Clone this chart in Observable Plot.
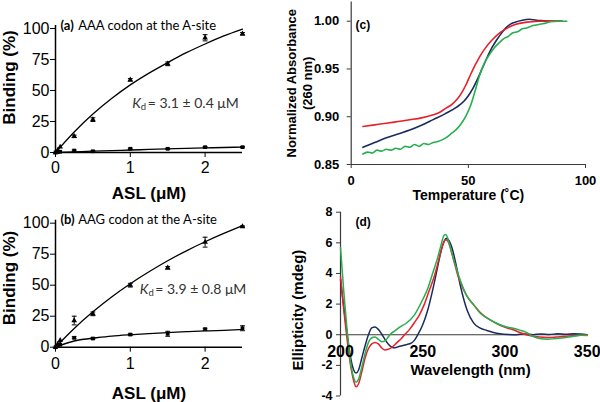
<!DOCTYPE html>
<html><head><meta charset="utf-8">
<script src="https://cdn.jsdelivr.net/npm/d3@7"></script>
<script src="https://cdn.jsdelivr.net/npm/@observablehq/plot@0.6"></script>
<style>
body{margin:0;background:#fff;}
#fig{position:relative;width:600px;height:402px;overflow:hidden;background:#fff;}
.panel{position:absolute;}
</style></head><body><div id="fig"></div>
<script>
// ---------- data: panels (a) and (b) ----------
const aslX   = [0, 0.03, 0.0625, 0.25, 0.5, 1, 1.5, 2, 2.5];
const aTri    = [0, 2, 4.5, 13, 26.5, 58.6, 71.5, 92.5, 95.7];
const aTriErr = [0, 0, 0, 1, 1.5, 1, 1.5, 2.5, 1];
const aSq     = [0, 0.3, 0.6, 1.6, 1, 3, 3, 4.3, 4.3];
const aSqErr  = [0, 0, 0, 0.5, 0.5, 0.5, 0.5, 0.5, 0.5];
const bTri    = [0, 2.5, 5.5, 21.5, 26.9, 50, 64, 84.7, 97.3];
const bTriErr = [0, 0, 0, 3.5, 1.5, 1.5, 1, 4, 0.5];
const bSq     = [0, 1, 2, 7.6, 7, 10.2, 10.8, 14.5, 15.3];
const bSqErr  = [0, 0, 0, 0.8, 0.5, 0.6, 2, 0.8, 2];
const fitX    = [0, 0.25, 0.5, 0.75, 1, 1.25, 1.5, 1.75, 2, 2.25, 2.5];
const aFitTri = [0, 16.5, 31, 43.5, 54.5, 64, 72.5, 80.5, 87.5, 94, 99.5];
const aFitSq  = [0, 0.55, 1.1, 1.55, 2.0, 2.45, 2.9, 3.3, 3.7, 4.05, 4.4];
const bFitTri = [0, 15.1, 28.5, 40.5, 51.2, 60.8, 69.7, 77.7, 85, 91.7, 98];
const bFitSq  = [0, 5, 7.3, 8.9, 10, 11, 11.8, 12.5, 13.1, 13.6, 14.3];
const bindYTicks = [0, 25, 50, 75, 100];
const bindXTicks = [0, 1, 2];
const panelLetters = ["(a)", "(b)"];
const codonTitles = ["AAA codon at the A-site", "AAG codon at the A-site"];
const kdValues = ["= 3.1 ± 0.4 μM", "= 3.9 ± 0.8 μM"];

// ---------- data: panel (c) UV melting ----------
const tRed  = [5,10,15,20,25,30,35,38,40,43,45,47,49,51,53,55,57,60,63,66,70,75,80,85,90];
const aRed  = [0.8898,0.8915,0.8932,0.8950,0.8968,0.8988,0.9020,0.9050,0.9083,0.9130,0.9177,0.9245,0.9335,0.9445,0.9545,0.9635,0.9710,0.9800,0.9870,0.9920,0.9966,0.9990,1.0000,1.0003,1.0000];
const tBlue = [5,8,10,15,20,25,30,35,40,45,48,50,52,54,56,58,60,62,64,66,68,70,73,76,79,82,86,90];
const aBlue = [0.868,0.871,0.873,0.878,0.882,0.886,0.891,0.897,0.903,0.910,0.916,0.922,0.930,0.940,0.951,0.962,0.972,0.980,0.987,0.993,0.997,0.999,1.001,1.002,1.001,1.0005,1.0,1.0];
const tGreen = [5,7,9,11,13,15,17,19,21,23,25,27,29,31,33,35,37,39,41,43,45,47,49,51,53,55,57,59,61,63,65,67,69,71,73,75,77,79,81,83,85,88,92];
const aGreen = [0.861,0.863,0.862,0.865,0.864,0.866,0.865,0.867,0.866,0.869,0.868,0.871,0.869,0.872,0.871,0.873,0.874,0.876,0.879,0.883,0.887,0.893,0.901,0.912,0.928,0.945,0.957,0.965,0.972,0.977,0.9815,0.984,0.988,0.989,0.992,0.993,0.995,0.996,0.997,0.998,0.9995,1.0,1.0];
const cYTicks = [0.85, 0.90, 0.95, 1.00];
const cXTicks = [0, 50, 100];

// ---------- data: panel (d) CD spectra ----------
const wlBlue = [200,202,204,206,208,209.5,211,213,215,217,219,221,223,225,227,229,231,233,236,240,243,245,247,250,253,256,259,261,263,264.5,266,268,270,273,277,281,285,289,293,297,302,307,312,317,322,327,332,337,342,346,350];
const ellBlue = [3.6,1.8,0.1,-1.4,-2.3,-2.5,-2.3,-1.5,-0.7,0,0.45,0.5,0.35,0.05,-0.3,-0.6,-0.8,-0.85,-0.75,-0.65,-0.55,-0.35,0,0.65,1.6,2.9,4.4,5.4,6.1,6.3,6.15,5.6,4.7,3.15,1.6,0.76,0.43,0.28,0.15,0.07,0.02,0.0,0.05,0.0,0.05,0.02,0.06,0.03,0.07,0.04,0.0];
const wlRed = [200,202,204,206,208,209.5,211,213,215,217,219,221,223,225,227,229,231,233,235,237,239,242,245,248,251,254,257,260,262,264,265,267,269,271,273,277,281,285,289,293,297,301,305,309,313,317,321,326,331,336,341,346,350];
const ellRed = [3.8,1.6,-0.3,-1.9,-3.0,-3.4,-3.2,-2.4,-1.5,-0.9,-0.6,-0.5,-0.6,-0.85,-1.0,-0.95,-0.85,-0.65,-0.45,-0.25,0,0.35,0.8,1.3,2.0,2.9,3.8,5.0,5.8,6.2,6.15,5.6,4.8,4.0,3.4,2.5,1.95,1.45,1.1,0.85,0.62,0.45,0.33,0.15,0.0,-0.1,-0.15,-0.18,-0.15,-0.1,-0.07,-0.03,0];
const wlGreen = [200,202,204,206,208,209.5,211,213,215,217,219,221,223,225,227,229,230,233,236,240,245,250,253,256,259,261,263,264,266,268,270,273,277,281,285,289,293,297,301,305,309,313,317,321,326,331,336,341,346,350];
const ellGreen = [5.7,2.8,0.3,-1.7,-2.8,-3.1,-2.9,-2.1,-1.2,-0.5,-0.2,-0.15,-0.3,-0.45,-0.4,-0.15,0,0.25,0.5,0.75,1.3,2.3,3.0,4.0,5.0,5.8,6.5,6.55,6.0,5.2,4.5,3.5,2.5,1.95,1.4,1.1,0.85,0.65,0.5,0.42,0.3,0.15,-0.1,-0.25,-0.3,-0.25,-0.2,-0.12,-0.03,-0.05];
const dYTicks = [-4, -2, 0, 2, 4, 6, 8];
const dXTicks = [200, 250, 300, 350];
const seriesNames = ["s1", "s2", "s3"];

// ---------- styling ----------
const SANS = "'Liberation Sans', Arial, Helvetica, sans-serif";
const CAL = "Lato, 'Liberation Sans', sans-serif";
const NAVY = "#1c2b5e", RED = "#e8202a", GREEN = "#27ae4e", AXIS = "#3a3a3a";
const capSymbol = {draw(ctx, size) { const r = Math.sqrt(size / Math.PI); ctx.moveTo(-r, 0); ctx.lineTo(r, 0); }};

const fig = document.getElementById("fig");
function place(el, left, top) {
  const d = document.createElement("div");
  d.className = "panel"; d.style.left = left + "px"; d.style.top = top + "px";
  d.appendChild(el); fig.appendChild(d);
}

function bindingPanel(k, tri, triErr, sq, sqErr, fitTri, fitSq, o) {
  const pts = aslX.map((x, i) => ({x, tri: tri[i], te: triErr[i], sq: sq[i], se: sqErr[i]}));
  const errs = [
    ...pts.filter(p => p.te > 0).map(p => ({x: p.x, y: p.tri, e: p.te})),
    ...pts.filter(p => p.se > 0).map(p => ({x: p.x, y: p.sq, e: p.se}))
  ];
  const fit = fitX.map((x, i) => ({x, t: fitTri[i], s: fitSq[i]}));
  const txt = (s, opts) => Plot.text([s], {text: d => d, textAnchor: "start", lineAnchor: "middle", fill: "black", ...opts});
  return Plot.plot({
    width: 280, height: o.height,
    marginLeft: 55, marginRight: 38, marginTop: o.marginTop, marginBottom: o.marginBottom,
    style: {background: "transparent", fontFamily: SANS, color: "black"},
    x: {domain: [0, 2.5]}, y: {domain: [0, 102.4]},
    marks: [
      Plot.axisY({ticks: bindYTicks, tickSize: 5, tickPadding: 1, fontSize: 16, label: null}),
      Plot.axisX({ticks: bindXTicks, tickFormat: d => String(d), tickSize: 5, tickPadding: o.xPad, fontSize: 16, label: null}),
      Plot.ruleX([0], {strokeWidth: 1.5}),
      Plot.ruleY([0], {strokeWidth: 1.5}),
      Plot.line(fit, {x: "x", y: "t", curve: "natural", strokeWidth: 1.3}),
      Plot.line(fit, {x: "x", y: "s", curve: "natural", strokeWidth: 1.3}),
      Plot.ruleX(errs, {x: "x", y1: d => d.y - d.e, y2: d => d.y + d.e, strokeWidth: 1}),
      Plot.dot(errs, {x: "x", y: d => d.y + d.e, symbol: capSymbol, r: 2.4, stroke: "black", fill: "none", strokeWidth: 1}),
      Plot.dot(errs, {x: "x", y: d => d.y - d.e, symbol: capSymbol, r: 2.4, stroke: "black", fill: "none", strokeWidth: 1}),
      Plot.dot(pts, {x: "x", y: "tri", symbol: "triangle", r: 2.1, fill: "black", stroke: null}),
      Plot.dot(pts, {x: "x", y: "sq", symbol: "square", r: 2.1, fill: "black", stroke: null}),
      txt(panelLetters[k], {frameAnchor: "top-left", dx: 5, dy: o.titleDy, fontFamily: CAL, fontWeight: "bold", fontSize: 13}),
      txt(codonTitles[k], {frameAnchor: "top-left", dx: 22.7, dy: o.titleDy, fontFamily: CAL, fontSize: 13}),
      txt("K", {frameAnchor: "top-left", dx: o.kdDx, dy: o.kdDy, fontFamily: CAL, fontStyle: "italic", fontSize: 14, fill: "#333"}),
      txt("d", {frameAnchor: "top-left", dx: o.kdDx + 8.6, dy: o.kdDy + 3.5, fontFamily: CAL, fontSize: 9.5, fill: "#333"}),
      txt(kdValues[k], {frameAnchor: "top-left", dx: o.kdDx + 15.5, dy: o.kdDy, fontFamily: CAL, fontSize: 14, fill: "#333"}),
      Plot.text(["Binding (%)"], {text: d => d, frameAnchor: "left", dx: -46, dy: o.bindDy, rotate: -90, textAnchor: "middle", lineAnchor: "middle", fontWeight: "bold", fontSize: 17}),
      Plot.text(["ASL (μM)"], {text: d => d, frameAnchor: "bottom", dy: o.aslDy, textAnchor: "middle", lineAnchor: "middle", fontWeight: "bold", fontSize: 17})
    ]
  });
}

place(bindingPanel(0, aTri, aTriErr, aSq, aSqErr, aFitTri, aFitSq,
  {height: 212, marginTop: 25, marginBottom: 60, xPad: 4, titleDy: 0, kdDx: 76.7, kdDy: 78, bindDy: -11.5, aslDy: 41}), 0, 0);
place(bindingPanel(1, bTri, bTriErr, bSq, bSqErr, bFitTri, bFitSq,
  {height: 202, marginTop: 19.7, marginBottom: 55.3, xPad: 5, titleDy: -0.7, kdDx: 84.3, kdDy: 69.3, bindDy: -5.7, aslDy: 46.3}), 0, 200);

// ---------- panel (c) ----------
const cRows = [
  ...tBlue.map((t, i) => ({t, a: aBlue[i], s: seriesNames[0]})),
  ...tRed.map((t, i) => ({t, a: aRed[i], s: seriesNames[1]})),
  ...tGreen.map((t, i) => ({t, a: aGreen[i], s: seriesNames[2]}))
];
const colorScale = {domain: seriesNames, range: [NAVY, RED, GREEN]};
place(Plot.plot({
  width: 320, height: 212, marginLeft: 70.7, marginRight: 15, marginTop: 1.6, marginBottom: 48,
  style: {background: "transparent", fontFamily: SANS, fontWeight: "bold", color: "black"},
  x: {domain: [0, 100]}, y: {domain: [0.85, 1.02]}, color: colorScale,
  marks: [
    Plot.axisY({ticks: cYTicks, tickFormat: d3.format(".2f"), tickSize: 4, tickPadding: 8, fontSize: 13, label: null, stroke: AXIS}),
    Plot.axisX({ticks: cXTicks, tickFormat: d => String(d), tickSize: 4, tickPadding: 7, fontSize: 13, label: null, stroke: AXIS}),
    Plot.ruleX([0], {stroke: AXIS, strokeWidth: 1.2}),
    Plot.ruleY([0.85], {stroke: AXIS, strokeWidth: 1.2}),
    Plot.line(cRows, {x: "t", y: "a", z: "s", stroke: "s", curve: "monotone-x", strokeWidth: 1.6}),
    Plot.text(["(c)"], {text: d => d, frameAnchor: "top-left", dx: 4.3, dy: 23.4, textAnchor: "start", lineAnchor: "middle", fontSize: 12}),
    Plot.text(["Normalized Absorbance"], {text: d => d, frameAnchor: "left", dx: -59.7, dy: 0, rotate: -90, textAnchor: "middle", lineAnchor: "middle", fontSize: 13}),
    Plot.text(["(260 nm)"], {text: d => d, frameAnchor: "left", dx: -43.7, dy: 0, rotate: -90, textAnchor: "middle", lineAnchor: "middle", fontSize: 13}),
    Plot.text(["Temperature (˚C)"], {text: d => d, frameAnchor: "bottom", dy: 31, textAnchor: "middle", lineAnchor: "middle", fontSize: 14})
  ]
}), 280, 0);

// ---------- panel (d) ----------
const dRows = [
  ...wlBlue.map((w, i) => ({w, e: ellBlue[i], s: seriesNames[0]})),
  ...wlRed.map((w, i) => ({w, e: ellRed[i], s: seriesNames[1]})),
  ...wlGreen.map((w, i) => ({w, e: ellGreen[i], s: seriesNames[2]}))
];
place(Plot.plot({
  width: 320, height: 202, marginLeft: 60, marginRight: 13.3, marginTop: 11.7, marginBottom: 6.5,
  style: {background: "transparent", fontFamily: SANS, fontWeight: "bold", color: "black"},
  x: {domain: [200, 350], axis: null}, y: {domain: [-4, 8]}, color: colorScale,
  marks: [
    Plot.axisY({ticks: dYTicks, tickFormat: d => String(d), tickSize: 4, tickPadding: 4, fontSize: 12.5, label: null, stroke: AXIS}),
    Plot.ruleX([200], {stroke: AXIS, strokeWidth: 1.2}),
    Plot.ruleY([0], {stroke: AXIS, strokeWidth: 1.2}),
    Plot.line(dRows, {x: "w", y: "e", z: "s", stroke: "s", curve: "monotone-x", strokeWidth: 1.5}),
    Plot.text(dXTicks, {x: d => d, y: () => 0, text: d => String(d), dy: 17, textAnchor: "middle", lineAnchor: "middle", fontSize: 16}),
    Plot.text(["(d)"], {text: d => d, frameAnchor: "top-left", dx: 15, dy: 10, textAnchor: "start", lineAnchor: "middle", fontSize: 12}),
    Plot.text(["Ellipticity (mdeg)"], {text: d => d, frameAnchor: "left", dx: -42, dy: 6, rotate: -90, textAnchor: "middle", lineAnchor: "middle", fontSize: 15}),
    Plot.text(["Wavelength (nm)"], {text: d => d, frameAnchor: "bottom", dx: 6.7, dy: -26, textAnchor: "middle", lineAnchor: "middle", fontSize: 15})
  ]
}), 280, 200);
</script>
</body></html>
